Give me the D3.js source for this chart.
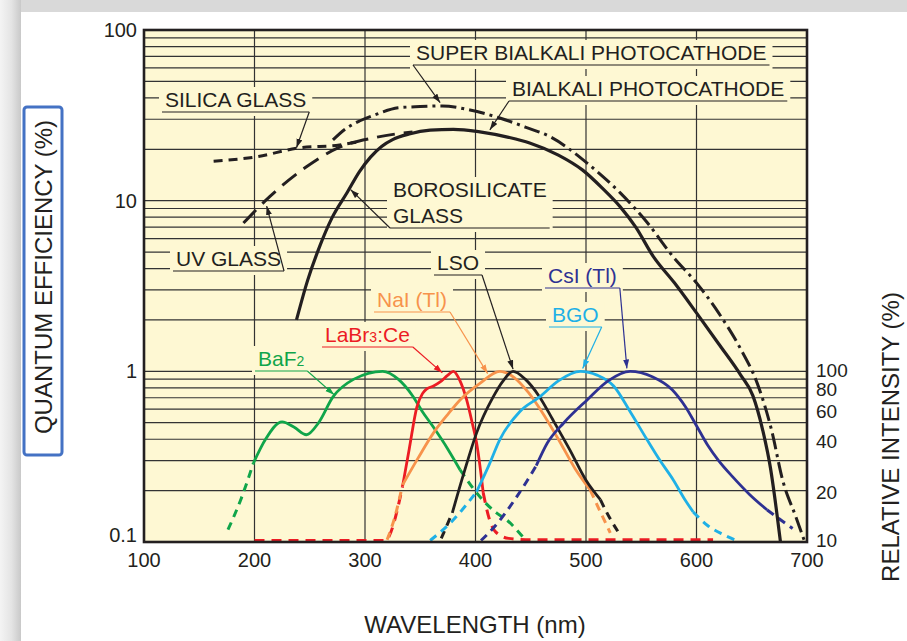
<!DOCTYPE html>
<html>
<head>
<meta charset="utf-8">
<script src="https://cdn.jsdelivr.net/npm/d3@7"></script>
<style>
  body { margin: 0; background: #fff; }
  text { font-family: "Liberation Sans", Arial, Helvetica, sans-serif; fill: #231f20; }
</style>
</head>
<body>
<div id="chart"></div>
<script>
// ---- data ----
var xTicks = [100, 200, 300, 400, 500, 600, 700];
var yTicksLeft = [0.1, 1, 10, 100];
var yTicksRight = [10, 20, 40, 60, 80, 100];

// photocathode quantum efficiency (%), [wavelength nm, QE]
var bialkali = [[238,2.0],[248,3.4],[259,5.4],[270,7.9],[284,11.2],[295,14.8],[305,18],[315,20.8],[325,22.8],
  [340,24.6],[359,25.9],[380,26.2],[404,25.3],[430,23.5],[449,21.8],[475,18.5],[497,15.1],[515,11.8],[531,9.2],
  [545,7.0],[561,4.7],[580,3.3],[600,2.2],[620,1.45],[640,0.95],[651,0.72],[660,0.45],[667,0.27],[672,0.16],[676,0.1]];
var superBialkali = [[271,22.7],[283,26.5],[295,29.3],[310,32],[330,35],[350,35.6],[370,35.9],[395,34],[422,30.5],
  [445,27],[468,23.6],[501,16.6],[531,11.1],[555,7.5],[579,4.68],[600,3.3],[620,2.2],[640,1.35],[655,0.85],
  [668,0.45],[678,0.23],[690,0.14],[698,0.1]];
var silicaGlass = [[163,17],[200,18],[241,20.4],[277,21.2],[292,22]];
var uvGlass = [[190,7.4],[214,10.6],[247,15.8],[277,20.6],[310,23.5],[343,25.3]];

// scintillator emission, relative intensity (%), [wavelength nm, intensity]
var baf2 = [[199,29],[210,40],[225,50.6],[236,47],[247,42.5],[258,50],[271,70.8],[290,90],[316,100],[330,90],
  [343,72],[352,58],[362,47],[375,35],[386,26.5]];
var baf2DashL = [[176,11.8],[188,18],[199,29]];
var baf2DashR = [[386,26.5],[404,18.4],[419,14.8],[428,13.5],[443,10.7]];

var labr3 = [[334,21.2],[340,35],[347,62],[352,74],[356,79],[362,82],[368,86.6],[375,95],[380,100],[386,88],
  [392,68],[397,50],[401,38],[404,28],[407,19.4]];
var labr3DashL = [[200,10.2],[318,10.2],[334,21.2]];
var labr3DashR = [[407,19.4],[412,14],[418,11.5],[430,10.5],[450,10.3],[615,10.3]];

var nai = [[334,21.6],[348,31],[362,43.6],[375,56],[386,68],[404,85],[422,100],[435,92],[448,75],[460,58],
  [475,40],[490,27],[504,20.1]];
var naiDashL = [[320,10.3],[327,14],[334,21.6]];
var naiDashR = [[504,20.1],[513,15],[522,11.3]];

var lso = [[379,14.8],[390,26],[401,43.6],[416,70.8],[425,88],[434,100],[445,90],[458,70.8],[470,52],
  [485,35],[500,23],[513,17.7]];
var lsoDashL = [[369,10.5],[379,14.8]];
var lsoDashR = [[513,17.7],[521,14],[529,11.5]];

var bgo = [[401,19.7],[412,28],[422,39.8],[440,58],[458,70.8],[475,88],[495,100],[510,95],[525,82],[540,58],
  [555,40],[567,30],[579,23.1],[590,17.5],[597,15]];
var bgoDashL = [[359,10.2],[380,13.5],[401,19.7]];
var bgoDashR = [[597,15],[610,12.5],[625,11],[639,10]];

var csi = [[455,28],[465,38],[480,50],[501,68],[520,88],[540,100],[560,93],[578,78],[590,62],[600,48],
  [610,37],[620,30],[633,24],[648,19],[664,15.4]];
var csiDashL = [[405,10.2],[420,12.9],[435,17.5],[447,23],[455,28]];
var csiDashR = [[664,15.4],[676,13.5],[687,12]];

// ---- layout ----
var W = 907, H = 641;
var plot = {left: 144, right: 807, top: 30, bottom: 542};
var ink = "#231f20", bg = "#fef8d3";
var colors = {baf2: "#10a54a", labr3: "#ec1c24", nai: "#f7934c", lso: "#231f20", bgo: "#1fb0e6", csi: "#2e3192"};

var svg = d3.select("#chart").append("svg").attr("width", W).attr("height", H);

// grey frame of the screenshot
var defs = svg.append("defs");
var gLeft = defs.append("linearGradient").attr("id", "leftBand");
gLeft.append("stop").attr("offset", "0%").attr("stop-color", "#f4f4f4");
gLeft.append("stop").attr("offset", "55%").attr("stop-color", "#e4e4e4");
gLeft.append("stop").attr("offset", "100%").attr("stop-color", "#c9c9c9");
svg.append("rect").attr("width", W).attr("height", 12).attr("fill", "#d9d9d9");
svg.append("rect").attr("width", 21).attr("height", H).attr("fill", "url(#leftBand)");
svg.append("rect").attr("x", 21).attr("y", 12).attr("width", W - 21).attr("height", H - 12).attr("fill", "#fff");

var x = d3.scaleLinear().domain([100, 700]).range([plot.left, plot.right]);
var y = d3.scaleLog().domain([0.1, 100]).range([plot.bottom, plot.top]);
var yR = d3.scaleLog().domain([10, 100]).range([y(0.1), y(1)]);

svg.append("rect").attr("x", plot.left).attr("y", plot.top)
  .attr("width", plot.right - plot.left).attr("height", plot.bottom - plot.top).attr("fill", bg);

// grid
var gridVals = [];
[0.1, 1, 10].forEach(function(d) { for (var k = 1; k < 10; k++) gridVals.push(k * d); });
gridVals.push(100);
var grid = svg.append("g").attr("stroke", "#333").attr("stroke-width", 1.2);
grid.selectAll("line.h").data(gridVals).enter().append("line").attr("class", "h")
  .attr("x1", plot.left).attr("x2", plot.right)
  .attr("y1", function(d) { return y(d); }).attr("y2", function(d) { return y(d); });
grid.selectAll("line.v").data(xTicks.slice(1, -1)).enter().append("line").attr("class", "v")
  .attr("y1", plot.top).attr("y2", plot.bottom)
  .attr("x1", function(d) { return x(d); }).attr("x2", function(d) { return x(d); });

// labels (positions are layout; arrow tips are in data space)
var labels = [
  {lines: ["SILICA GLASS"], x: 165, y: 107, color: ink, from: "right", tip: [238, 20.4], s: "qe"},
  {lines: ["SUPER BIALKALI PHOTOCATHODE"], x: 416, y: 60, color: ink, from: "left", tip: [368, 37.5], s: "qe"},
  {lines: ["BIALKALI PHOTOCATHODE"], x: 512, y: 96, color: ink, from: "left", tip: [413, 26], s: "qe"},
  {lines: ["BOROSILICATE", "GLASS"], x: 393, y: 197, color: ink, from: "left", tip: [287, 11.6], s: "qe"},
  {lines: ["UV GLASS"], x: 176, y: 266, color: ink, from: "right", tip: [211, 9.3], s: "qe"},
  {lines: ["LSO"], x: 437, y: 270, color: ink, from: "right", tip: [434, 103], s: "ri"},
  {lines: ["NaI (Tl)"], x: 377, y: 307, color: colors.nai, from: "right", tip: [411, 97], s: "ri"},
  {lines: ["LaBr", "3", ":Ce"], sub: true, x: 325, y: 342, color: colors.labr3, from: "right", tip: [370, 98], s: "ri"},
  {lines: ["BaF", "2"], sub: true, x: 258, y: 366, color: colors.baf2, from: "right", tip: [272, 73], s: "ri"},
  {lines: ["CsI (Tl)"], x: 548, y: 283, color: colors.csi, from: "right", tip: [537, 104], s: "ri"},
  {lines: ["BGO"], x: 552, y: 322, color: colors.bgo, from: "right", tip: [497, 104], s: "ri"}
];

var bgLayer = svg.append("g");
var curveLayer = svg.append("g");
var labelLayer = svg.append("g");

// markers for arrow heads, one per colour
var seen = {};
labels.forEach(function(l) {
  if (seen[l.color]) return;
  seen[l.color] = true;
  defs.append("marker").attr("id", "arr" + l.color.slice(1))
    .attr("markerUnits", "userSpaceOnUse").attr("markerWidth", 10).attr("markerHeight", 8)
    .attr("refX", 9).attr("refY", 3).attr("orient", "auto")
    .append("path").attr("d", "M0,0 L9,3 L0,6 Z").attr("fill", l.color);
});

labels.forEach(function(l) {
  var g = labelLayer.append("g");
  var x0 = l.x, x1 = l.x, lastY = l.y;
  if (l.sub) {
    var t = g.append("text").attr("x", l.x).attr("y", l.y).attr("font-size", 21).style("fill", l.color);
    l.lines.forEach(function(s, i) {
      t.append("tspan").text(s).attr("font-size", i % 2 == 1 ? 14 : 21);
    });
    x1 = l.x + t.node().getComputedTextLength();
  } else {
    l.lines.forEach(function(s, i) {
      var t = g.append("text").attr("x", l.x).attr("y", l.y + i * 26).attr("font-size", 21)
        .style("fill", l.color).text(s);
      x1 = Math.max(x1, l.x + t.node().getComputedTextLength());
      lastY = l.y + i * 26;
    });
  }
  var uy = lastY + 5;
  var ux0 = x0 - 3, ux1 = x1 + 3;
  bgLayer.append("rect").attr("x", ux0 - 3).attr("y", l.y - 20)
    .attr("width", ux1 - ux0 + 6).attr("height", uy - l.y + 24).attr("fill", bg);
  g.append("line").attr("x1", ux0).attr("x2", ux1).attr("y1", uy).attr("y2", uy)
    .attr("stroke", l.color).attr("stroke-width", 1.2);
  var sy = l.s == "qe" ? y : yR;
  var sx = l.from == "left" ? ux0 : ux1;
  g.append("line").attr("x1", sx).attr("y1", uy)
    .attr("x2", x(l.tip[0])).attr("y2", sy(l.tip[1]))
    .attr("stroke", l.color).attr("stroke-width", 1.2)
    .attr("marker-end", "url(#arr" + l.color.slice(1) + ")");
});

// curves
function draw(data, scaleY, color, width, dash) {
  var line = d3.line().x(function(d) { return x(d[0]); }).y(function(d) { return scaleY(d[1]); })
    .curve(d3.curveMonotoneX);
  curveLayer.append("path").datum(data).attr("d", line)
    .attr("fill", "none").attr("stroke", color).attr("stroke-width", width)
    .attr("stroke-dasharray", dash || null).attr("stroke-linejoin", "round");
}
var scDash = "8,6";
draw(labr3DashL, yR, colors.labr3, 3, "10,7");
draw(labr3DashR, yR, colors.labr3, 3, "10,7");
draw(baf2DashL, yR, colors.baf2, 3, scDash);
draw(baf2DashR, yR, colors.baf2, 3, scDash);
draw(naiDashL, yR, colors.nai, 3, scDash);
draw(naiDashR, yR, colors.nai, 3, scDash);
draw(lsoDashL, yR, colors.lso, 3, scDash);
draw(lsoDashR, yR, colors.lso, 3, scDash);
draw(bgoDashL, yR, colors.bgo, 3, scDash);
draw(bgoDashR, yR, colors.bgo, 3, scDash);
draw(csiDashL, yR, colors.csi, 3, scDash);
draw(csiDashR, yR, colors.csi, 3, scDash);
draw(baf2, yR, colors.baf2, 2.8);
draw(labr3, yR, colors.labr3, 2.8);
draw(nai, yR, colors.nai, 2.8);
draw(lso, yR, colors.lso, 2.8);
draw(bgo, yR, colors.bgo, 2.8);
draw(csi, yR, colors.csi, 2.8);

draw(silicaGlass, y, ink, 3, "9,6");
draw(uvGlass, y, ink, 3, "18,9");
draw(superBialkali, y, ink, 3, "16,5,3,5");
draw(bialkali, y, ink, 3.2);

// frame
svg.append("rect").attr("x", plot.left).attr("y", plot.top)
  .attr("width", plot.right - plot.left).attr("height", plot.bottom - plot.top)
  .attr("fill", "none").attr("stroke", ink).attr("stroke-width", 2.6);

// tick labels
svg.append("g").selectAll("text").data(xTicks).enter().append("text")
  .attr("x", function(d) { return x(d); }).attr("y", 567).attr("text-anchor", "middle")
  .attr("font-size", 20).text(function(d) { return d; });
svg.append("g").selectAll("text").data(yTicksLeft).enter().append("text")
  .attr("x", 137).attr("y", function(d) { return y(d) + (d == 0.1 ? 0 : 7); })
  .attr("text-anchor", "end").attr("font-size", 20).text(function(d) { return d; });
svg.append("g").selectAll("text").data(yTicksRight).enter().append("text")
  .attr("x", 816).attr("y", function(d) { return yR(d) + (d == 10 ? 5 : d == 100 ? 5.5 : 8.5); })
  .attr("font-size", 19).text(function(d) { return d; });

// axis titles
svg.append("text").attr("x", 475).attr("y", 633).attr("text-anchor", "middle")
  .attr("font-size", 24).text("WAVELENGTH (nm)");
svg.append("rect").attr("x", 24).attr("y", 107).attr("width", 38).attr("height", 348).attr("rx", 3)
  .attr("fill", "none").attr("stroke", "#4472c4").attr("stroke-width", 3);
svg.append("text").attr("transform", "translate(52,277) rotate(-90)").attr("text-anchor", "middle")
  .attr("font-size", 24).text("QUANTUM EFFICIENCY (%)");
svg.append("text").attr("transform", "translate(899,437) rotate(-90)").attr("text-anchor", "middle")
  .attr("font-size", 24).text("RELATIVE INTENSITY (%)");
</script>
</body>
</html>
